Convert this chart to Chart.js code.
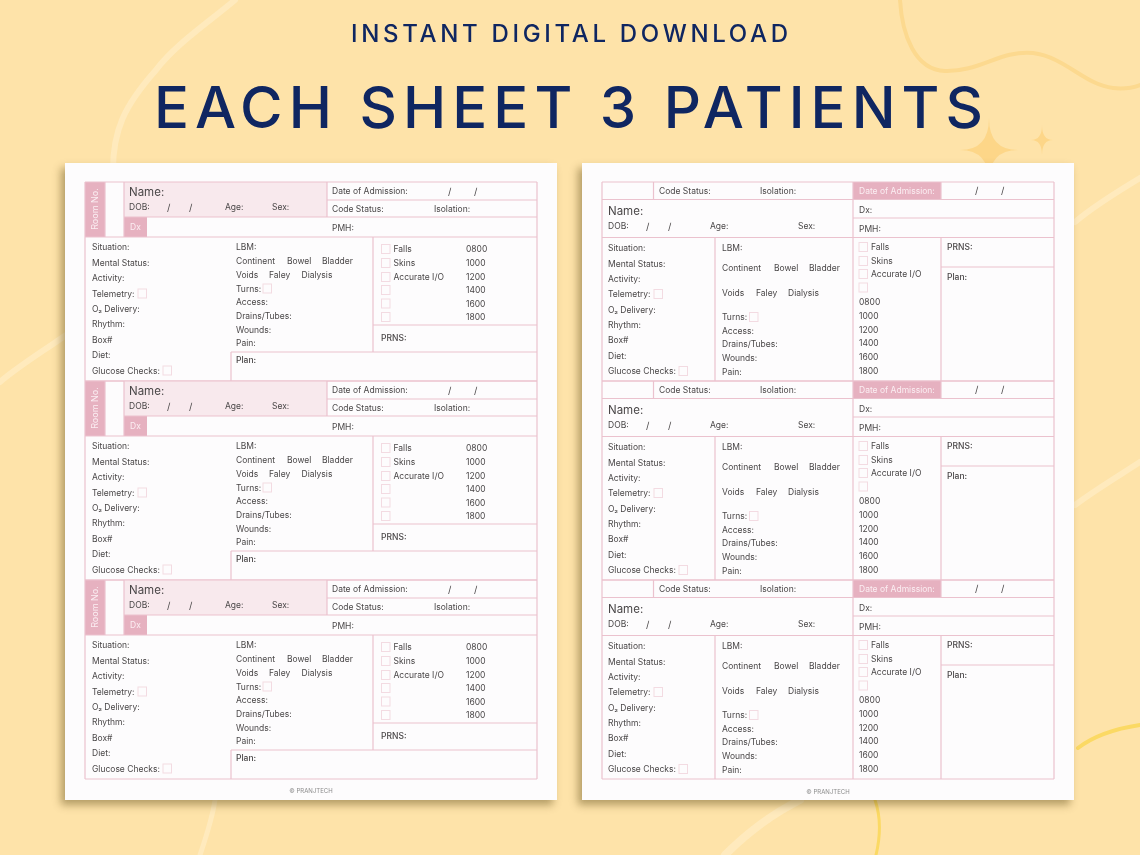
<!DOCTYPE html>
<html>
<head>
<meta charset="utf-8">
<title>Each Sheet 3 Patients</title>
<script src="https://cdn.jsdelivr.net/npm/chart.js@4"></script>
<style>
  html, body { margin: 0; padding: 0; background: #fee3a9; }
  canvas { display: block; }
</style>
</head>
<body>
<canvas id="sheet" width="1140" height="855"></canvas>
<script>
const headline = 'INSTANT DIGITAL DOWNLOAD';
const title = 'EACH SHEET 3 PATIENTS';
const footer = '© PRANJTECH';
const patientSlots = ['first', 'second', 'third'];
const situationLabels = ['Situation:', 'Mental Status:', 'Activity:', 'Telemetry:', 'O₂ Delivery:', 'Rhythm:', 'Box#', 'Diet:', 'Glucose Checks:'];
const eliminationLabels = ['Continent', 'Bowel', 'Bladder', 'Voids', 'Faley', 'Dialysis'];
const careLabels = ['Access:', 'Drains/Tubes:', 'Wounds:', 'Pain:'];
const checkLabels = ['Falls', 'Skins', 'Accurate I/O'];
const hourLabels = ['0800', '1000', '1200', '1400', '1600', '1800'];

const FONT = 'Inter, "Open Sans", sans-serif';
const INK = '#4a4748';
const LINE = '#ebc2ce';
const PINK = '#e6b1c0';
const PALE = '#f8e9ed';
const NAVY = '#0f2661';
const BLOCK_STEP = 199;

const formPlugin = {
  id: 'form',
  beforeDatasetsDraw(chart) {
    const ctx = chart.ctx;
    const X = v => chart.scales.x.getPixelForValue(v);
    const Y = v => chart.scales.y.getPixelForValue(v);

    function text(str, x, y, size, opts = {}) {
      ctx.font = `${opts.weight || 400} ${size}px ${FONT}`;
      ctx.fillStyle = opts.color || INK;
      ctx.textAlign = opts.align || 'left';
      ctx.textBaseline = 'middle';
      ctx.letterSpacing = (opts.spacing || 0) + 'px';
      ctx.fillText(str, X(x), Y(y + 0.8));
      ctx.letterSpacing = '0px';
    }

    // stretch a line of text so it spans x0..x1
    function fitted(str, x0, x1, y, size, weight) {
      ctx.font = `${weight} ${size}px ${FONT}`;
      ctx.letterSpacing = '0px';
      const spacing = (x1 - x0 - ctx.measureText(str).width) / (str.length - 1);
      text(str, x0, y, size, { weight, color: NAVY, spacing });
    }

    function fill(x0, y0, x1, y1, color) {
      ctx.fillStyle = color;
      ctx.fillRect(X(x0), Y(y0), X(x1) - X(x0), Y(y1) - Y(y0));
    }

    function hline(x0, x1, y) {
      ctx.beginPath();
      ctx.moveTo(X(x0), Y(y));
      ctx.lineTo(X(x1), Y(y));
      ctx.stroke();
    }

    function vline(x, y0, y1) {
      ctx.beginPath();
      ctx.moveTo(X(x), Y(y0));
      ctx.lineTo(X(x), Y(y1));
      ctx.stroke();
    }

    function box(x, y) {
      ctx.save();
      ctx.strokeStyle = '#f3dbe2';
      ctx.lineWidth = 1;
      ctx.strokeRect(X(x), Y(y - 4.5), 8.5, 9);
      ctx.restore();
    }

    // start point followed by bezier segments (c1x, c1y, c2x, c2y, x, y)
    function curve(start, segments, color, width) {
      ctx.save();
      ctx.strokeStyle = color;
      ctx.lineWidth = width;
      ctx.lineCap = 'round';
      ctx.beginPath();
      ctx.moveTo(X(start[0]), Y(start[1]));
      segments.forEach(p => {
        ctx.bezierCurveTo(X(p[0]), Y(p[1]), X(p[2]), Y(p[3]), X(p[4]), Y(p[5]));
      });
      ctx.stroke();
      ctx.restore();
    }

    function star(cx, cy, rx, ry, color) {
      ctx.fillStyle = color;
      ctx.beginPath();
      ctx.moveTo(X(cx), Y(cy - ry));
      ctx.quadraticCurveTo(X(cx), Y(cy), X(cx + rx), Y(cy));
      ctx.quadraticCurveTo(X(cx), Y(cy), X(cx), Y(cy + ry));
      ctx.quadraticCurveTo(X(cx), Y(cy), X(cx - rx), Y(cy));
      ctx.quadraticCurveTo(X(cx), Y(cy), X(cx), Y(cy - ry));
      ctx.fill();
    }

    function sheetPaper(x0) {
      ctx.save();
      ctx.shadowColor = 'rgba(90, 70, 20, 0.45)';
      ctx.shadowBlur = 8;
      ctx.shadowOffsetX = -4;
      ctx.shadowOffsetY = 5;
      fill(x0, 163, x0 + 492, 800, '#fdfcfd');
      ctx.restore();
    }

    // background decoration
    fill(0, 0, 1140, 855, '#fee3a9');
    const pale = 'rgba(255, 240, 205, 0.55)';
    curve([235, 0], [[205, 25, 175, 45, 156, 70], [125, 105, 112, 130, 113, 175]], pale, 6);
    curve([0, 382], [[20, 365, 45, 350, 66, 335]], pale, 6);
    curve([1075, 222], [[1095, 205, 1120, 190, 1140, 178]], pale, 6);
    curve([1075, 505], [[1095, 490, 1120, 475, 1140, 462]], pale, 6);
    curve([215, 800], [[212, 820, 205, 840, 200, 855]], pale, 5);
    curve([800, 800], [[770, 815, 745, 835, 725, 855]], pale, 8);
    curve([900, 0], [[902, 35, 915, 70, 945, 71], [980, 72, 1000, 50, 1033, 53], [1065, 57, 1085, 85, 1113, 88], [1122, 89, 1132, 88, 1140, 85]], '#fcd98f', 4);
    curve([875, 800], [[882, 820, 880, 838, 876, 855]], '#fbd964', 3);
    curve([1078, 748], [[1095, 735, 1120, 728, 1140, 725]], '#fbd964', 4);
    star(989, 150, 29, 32, '#fdd688');
    star(1042, 140, 11, 15, '#fdd688');

    // headings
    fitted(headline, 351, 788, 33.5, 24, 500);
    fitted(title, 154, 983, 110, 58, 500);

    sheetPaper(65);
    sheetPaper(582);
    text(footer, 311, 790, 6, { align: 'center', color: '#8b8b8b' });
    text(footer, 828, 791, 6, { align: 'center', color: '#8b8b8b' });

    ctx.strokeStyle = LINE;
    ctx.lineWidth = 1.2;

    patientSlots.forEach((slot, i) => {
      const d = i * BLOCK_STEP;
      drawLeftBlock(d);
      drawRightBlock(d);
    });

    function drawLeftBlock(d) {
      fill(85, 182 + d, 105, 237 + d, PINK);
      fill(124, 182 + d, 327, 217 + d, PALE);
      fill(124, 217 + d, 147, 237 + d, PINK);

      hline(85, 537, 182 + d);
      hline(124, 537, 217 + d);
      hline(327, 537, 200 + d);
      hline(85, 537, 237 + d);
      hline(231, 537, 352 + d);
      hline(373, 537, 325 + d);
      hline(85, 537, 381 + d);
      vline(85, 182 + d, 381 + d);
      vline(105, 182 + d, 237 + d);
      vline(124, 182 + d, 237 + d);
      vline(327, 182 + d, 217 + d);
      vline(537, 182 + d, 381 + d);
      vline(373, 237 + d, 352 + d);
      vline(231, 352 + d, 381 + d);

      ctx.save();
      ctx.translate(X(95), Y(209 + d));
      ctx.rotate(-Math.PI / 2);
      ctx.font = `400 9px ${FONT}`;
      ctx.fillStyle = '#fbeef2';
      ctx.textAlign = 'center';
      ctx.textBaseline = 'middle';
      ctx.fillText('Room No.', 0, 0);
      ctx.restore();

      text('Name:', 129, 192 + d, 11.5);
      text('DOB:', 129, 207 + d, 8.5);
      text('/', 167, 207 + d, 9.5);
      text('/', 189, 207 + d, 9.5);
      text('Age:', 225, 207 + d, 8.5);
      text('Sex:', 272, 207 + d, 8.5);
      text('Dx', 130, 227 + d, 8.5, { color: '#fbeef2' });
      text('Date of Admission:', 332, 191 + d, 8.5);
      text('/', 448, 191 + d, 9.5);
      text('/', 474, 191 + d, 9.5);
      text('Code Status:', 332, 208.5 + d, 8.5);
      text('Isolation:', 434, 208.5 + d, 8.5);
      text('PMH:', 332, 228 + d, 8.5);

      const rows = [247, 262.5, 278, 293.5, 309, 324, 339.5, 355, 370.5];
      situationLabels.forEach((label, n) => text(label, 92, rows[n] + d, 8.5));
      box(138, 293.5 + d);
      box(163, 370.5 + d);

      text('LBM:', 236, 247 + d, 8.5);
      text(eliminationLabels[0], 236, 261 + d, 8.5);
      text(eliminationLabels[1], 287, 261 + d, 8.5);
      text(eliminationLabels[2], 322, 261 + d, 8.5);
      text(eliminationLabels[3], 236, 275 + d, 8.5);
      text(eliminationLabels[4], 269, 275 + d, 8.5);
      text(eliminationLabels[5], 301.5, 275 + d, 8.5);
      text('Turns:', 236, 288.5 + d, 8.5);
      box(263, 288.5 + d);
      const careRows = [302, 316, 329.5, 343];
      careLabels.forEach((label, n) => text(label, 236, careRows[n] + d, 8.5));
      text('Plan:', 236, 360 + d, 8.5, { weight: 500 });

      const checkRows = [249, 263, 277, 290, 303.5, 317];
      hourLabels.forEach((hour, n) => {
        box(381.5, checkRows[n] + d);
        if (checkLabels[n]) text(checkLabels[n], 393.5, checkRows[n] + d, 8.5);
        text(hour, 466, checkRows[n] + d, 8.5);
      });
      text('PRNS:', 381, 338 + d, 8.5, { weight: 500 });
    }

    function drawRightBlock(d) {
      fill(853, 182 + d, 941, 199.5 + d, PINK);

      hline(602, 1054, 182 + d);
      hline(602, 1054, 199.5 + d);
      hline(853, 1054, 218 + d);
      hline(602, 1054, 237.5 + d);
      hline(941, 1054, 267 + d);
      hline(602, 1054, 381 + d);
      vline(602, 182 + d, 381 + d);
      vline(1054, 182 + d, 381 + d);
      vline(653.5, 182 + d, 199.5 + d);
      vline(853, 182 + d, 381 + d);
      vline(941, 182 + d, 199.5 + d);
      vline(941, 237.5 + d, 381 + d);
      vline(715, 237.5 + d, 381 + d);

      text('Code Status:', 659, 190.5 + d, 8.5);
      text('Isolation:', 760, 190.5 + d, 8.5);
      text('Date of Admission:', 859, 190.5 + d, 8.5, { color: '#fbeef2' });
      text('/', 975, 190.5 + d, 9.5);
      text('/', 1001, 190.5 + d, 9.5);
      text('Name:', 608, 211 + d, 11.5);
      text('DOB:', 608, 226 + d, 8.5);
      text('/', 646, 226 + d, 9.5);
      text('/', 668, 226 + d, 9.5);
      text('Age:', 710, 226 + d, 8.5);
      text('Sex:', 798, 226 + d, 8.5);
      text('Dx:', 859, 209.5 + d, 8.5);
      text('PMH:', 859, 228.5 + d, 8.5);

      const rows = [248, 263.5, 279, 294, 310, 325, 340, 356, 371];
      situationLabels.forEach((label, n) => text(label, 608, rows[n] + d, 8.5));
      box(654, 294 + d);
      box(679, 371 + d);

      text('LBM:', 722, 248 + d, 8.5);
      text(eliminationLabels[0], 722, 268 + d, 8.5);
      text(eliminationLabels[1], 774, 268 + d, 8.5);
      text(eliminationLabels[2], 809, 268 + d, 8.5);
      text(eliminationLabels[3], 722, 292.5 + d, 8.5);
      text(eliminationLabels[4], 756, 292.5 + d, 8.5);
      text(eliminationLabels[5], 788, 292.5 + d, 8.5);
      text('Turns:', 722, 317 + d, 8.5);
      box(749.5, 317 + d);
      const careRows = [330.5, 344, 358, 371.5];
      careLabels.forEach((label, n) => text(label, 722, careRows[n] + d, 8.5));

      const checkRows = [247, 261, 274, 287.5];
      checkRows.forEach((y, n) => {
        box(859, y + d);
        if (checkLabels[n]) text(checkLabels[n], 871, y + d, 8.5);
      });
      const hourRows = [302, 316, 329.5, 343, 357, 371];
      hourLabels.forEach((hour, n) => text(hour, 859, hourRows[n] + d, 8.5));
      text('PRNS:', 947, 247 + d, 8.5, { weight: 500 });
      text('Plan:', 947, 277 + d, 8.5, { weight: 500 });
    }
  }
};

new Chart(document.getElementById('sheet').getContext('2d'), {
  type: 'scatter',
  data: { datasets: [{ data: [] }] },
  options: {
    responsive: false,
    animation: false,
    devicePixelRatio: 1,
    layout: { padding: 0 },
    plugins: { legend: { display: false }, tooltip: { enabled: false } },
    scales: {
      x: { type: 'linear', min: 0, max: 1140, display: false },
      y: { type: 'linear', min: 0, max: 855, reverse: true, display: false }
    }
  },
  plugins: [formPlugin]
});
</script>
</body>
</html>
